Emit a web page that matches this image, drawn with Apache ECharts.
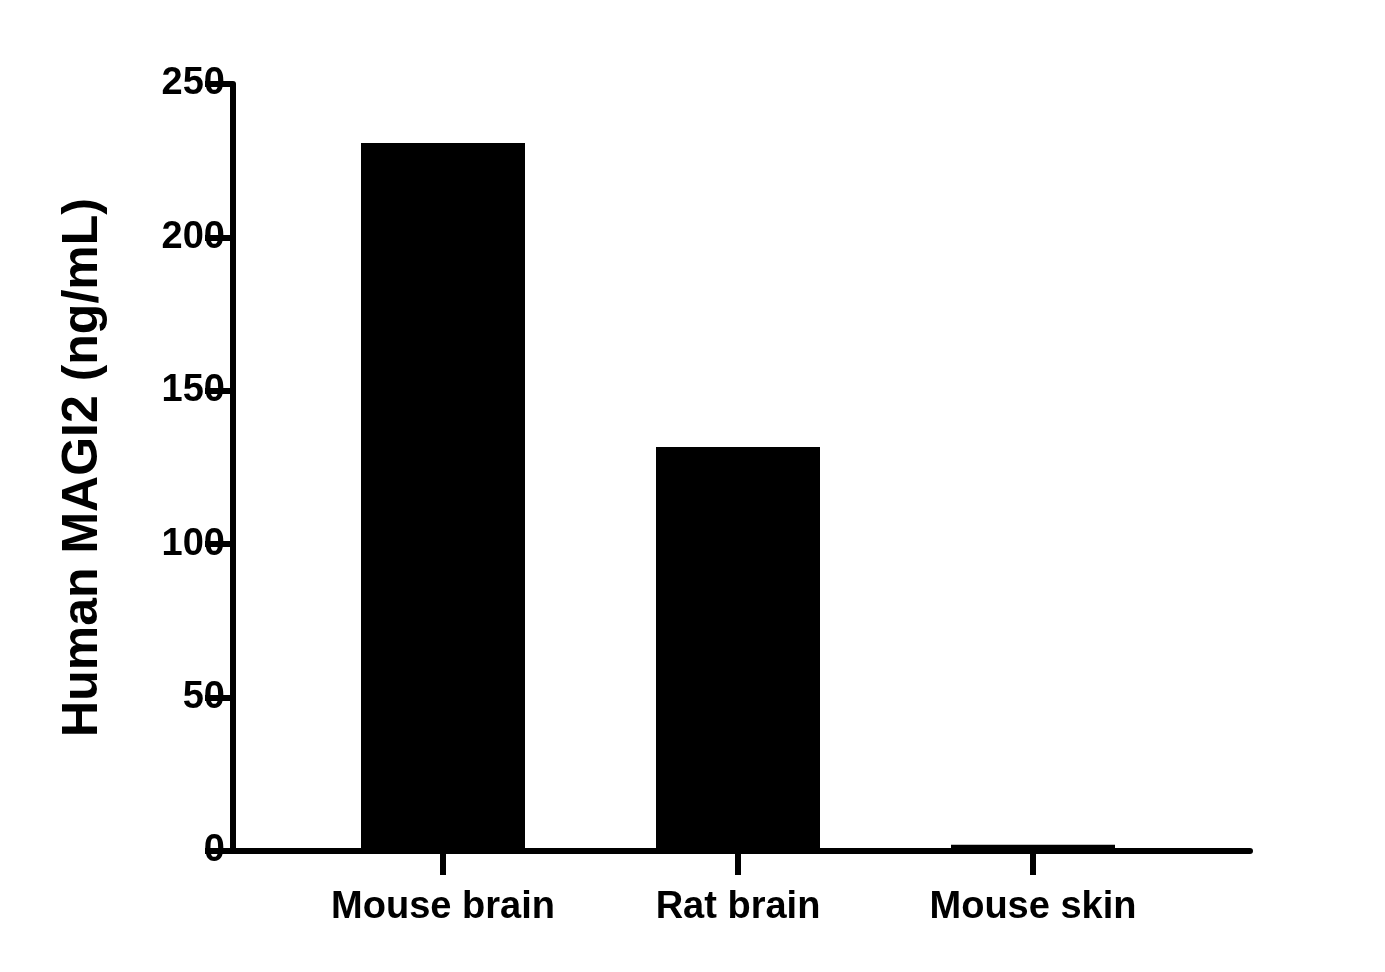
<!DOCTYPE html>
<html><head><meta charset="utf-8">
<script src="https://cdn.jsdelivr.net/npm/echarts@6/dist/echarts.min.js"></script>
<style>html,body{margin:0;padding:0;background:#fff}#c{width:1385px;height:972px}</style>
</head><body><div id="c"></div>
<script>
const categories = ['Mouse brain', 'Rat brain', 'Mouse skin'];
const values = [230.8, 131.7, 2.0];
const yTicks = [0, 50, 100, 150, 200, 250];

const chart = echarts.init(document.getElementById('c'));
const font = 'Liberation Sans, Arial, sans-serif';
chart.setOption({
  animation: false,
  grid: [
    {left: 233, right: 135, top: 84, bottom: 121},
    {left: 295.5, right: 204.5, top: 84, bottom: 121}
  ],
  xAxis: [
    {gridIndex: 0, type: 'value', min: 0, max: 1, axisLine: {lineStyle: {color: '#000', width: 6}},
     axisTick: {show: false}, axisLabel: {show: false}, splitLine: {show: false}},
    {gridIndex: 1, type: 'category', data: categories, axisLine: {show: false},
     axisTick: {show: true, alignWithLabel: true, length: 24, inside: false, lineStyle: {color: '#000', width: 6}},
     axisLabel: {color: '#000', fontFamily: font, fontWeight: 'bold', fontSize: 38, margin: 38}}
  ],
  yAxis: [
    {gridIndex: 0, type: 'value', min: 0, max: 250, interval: 50,
     name: 'Human MAGI2 (ng/mL)', nameLocation: 'middle', nameGap: 125,
     nameTextStyle: {color: '#000', fontFamily: font, fontWeight: 'bold', fontSize: 50},
     axisLine: {show: true, lineStyle: {color: '#000', width: 6}},
     axisTick: {show: true, length: 28, lineStyle: {color: '#000', width: 6}},
     axisLabel: {color: '#000', fontFamily: font, fontWeight: 'bold', fontSize: 38, margin: 8,
       formatter: v => yTicks.includes(v) ? String(v) : ''},
     splitLine: {show: false}},
    {gridIndex: 1, type: 'value', min: 0, max: 250, show: false}
  ],
  series: [{
    type: 'bar', xAxisIndex: 1, yAxisIndex: 1, data: values, barWidth: 164,
    itemStyle: {color: '#000'}
  }]
});
</script></body></html>
